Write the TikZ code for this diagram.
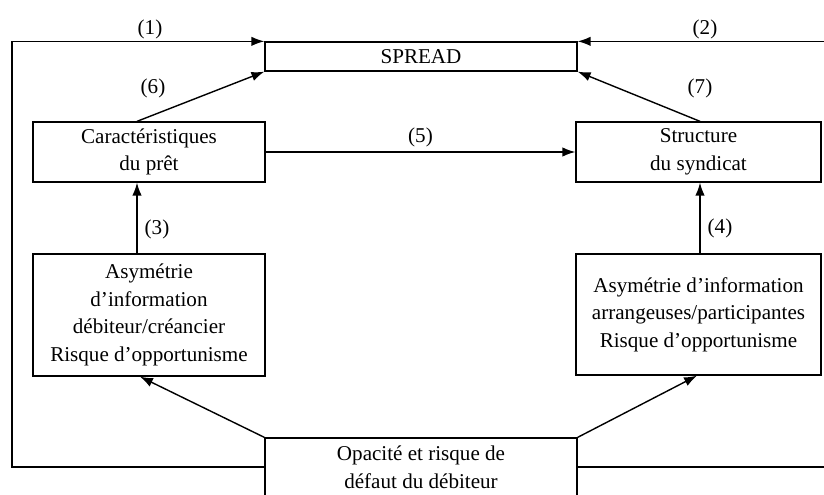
\documentclass[tikz,border=0pt]{standalone}
\usepackage{fontspec}
\setmainfont{Liberation Serif}
\usetikzlibrary{arrows.meta,positioning}
\begin{document}
\begin{tikzpicture}[x=0.03cm,y=0.03cm,
    box/.style={draw,line width=1.1pt,align=center,inner sep=0pt,font=\fontsize{18}{23.5}\selectfont},
    lbl/.style={font=\fontsize{18}{23.5}\selectfont},
    arr/.style={line width=1.2pt,-{Latex[length=11pt,width=8pt]}}]
        \clip (0,0) rectangle (824,494);
        \node[box,minimum width=9.36cm,minimum height=0.87cm] (spread) at (421,437.5) {SPREAD};
        \node[box,minimum width=6.96cm,minimum height=1.8cm] (caract) at (149,342) {Caractéristiques\\du prêt};
        \node[box,minimum width=7.35cm,minimum height=1.8cm] (struct) at (698.5,342) {Structure\\du syndicat};
        \node[box,minimum width=6.96cm,minimum height=3.66cm] (asymL) at (149,179) {Asymétrie\\d'information\\débiteur/créancier\\Risque d'opportunisme};
        \node[box,minimum width=7.35cm,minimum height=3.63cm] (asymR) at (698.5,179.5) {Asymétrie d'information\\arrangeuses/participantes\\Risque d'opportunisme};
        \node[box,minimum width=9.36cm,minimum height=1.74cm] (opac) at (421,27) {Opacité et risque de\\défaut du débiteur};
        \coordinate (lcorner) at (12,27);
        \coordinate (rcorner) at (830,27);
        \draw[arr] (opac.west) -- (lcorner) |- (spread.north west);
        \draw[arr] (opac.east) -- (rcorner) |- (spread.north east);
        \draw[arr] ([xshift=-12*0.03cm]caract.north) -- (spread.south west);
        \draw[arr] ([xshift=1.5*0.03cm]struct.north) -- (spread.south east);
        \draw[arr] (caract.east) -- (struct.west) node[lbl,midway,above] {(5)};
        \draw[arr] ([xshift=-12*0.03cm]asymL.north) -- ([xshift=-12*0.03cm]caract.south);
        \draw[arr] ([xshift=1.5*0.03cm]asymR.north) -- ([xshift=1.5*0.03cm]struct.south);
        \draw[arr] (opac.north west) -- ([xshift=-9*0.03cm]asymL.south);
        \draw[arr] (opac.north east) -- ([xshift=-1.5*0.03cm]asymR.south);
        \node[lbl] (l1) at (150,465) {(1)};
        \node[lbl] (l2) at (705,465) {(2)};
        \node[lbl] (l6) at (153,406) {(6)};
        \node[lbl] (l7) at (700,406) {(7)};
        \node[lbl] (l3) at (157,265) {(3)};
        \node[lbl] (l4) at (720,266) {(4)};
\end{tikzpicture}
\end{document}
